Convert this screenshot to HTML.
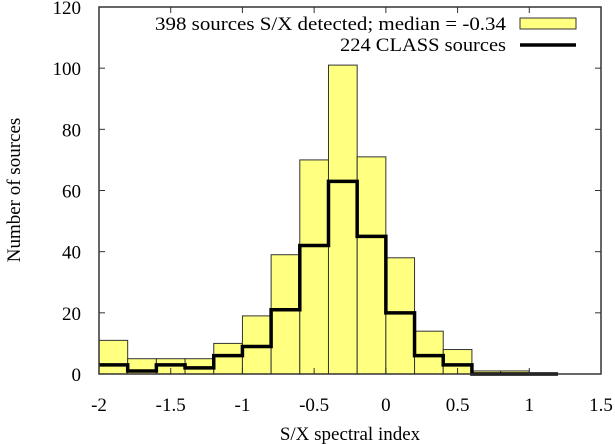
<!DOCTYPE html>
<html><head><meta charset="utf-8"><style>
html,body{margin:0;padding:0;background:#fff;}
svg{display:block;font-family:"Liberation Serif","DejaVu Serif",serif;}
</style></head><body>
<svg id="chart" width="615" height="444"></svg>
<script>
const binStarts = [-2,-1.8,-1.6,-1.4,-1.2,-1,-0.8,-0.6,-0.4,-0.2,0,0.2,0.4,0.6,0.8,1.0];
const detectedCounts = [11,5,5,5,10,19,39,70,101,71,38,14,8,1,1,0];
const classCounts = [3,1,3,2,6,9,21,42,63,45,20,6,3,0,0,0];
const xTicks = [-2,-1.5,-1,-0.5,0,0.5,1,1.5];
const xTickLabels = ["-2","-1.5","-1","-0.5","0","0.5","1","1.5"];
const yTicks = [0,20,40,60,80,100,120];
const binWidth = 0.2;

const svg = document.getElementById('chart');
const NS = 'http://www.w3.org/2000/svg';
const L=99, R=601, T=7, B=374;
const xs = v => L + (v - (-2)) / 3.5 * (R - L);
const ys = v => B - v / 120 * (B - T);
function mk(tag, attrs, parent){const e=document.createElementNS(NS,tag);for(const k in attrs)e.setAttribute(k,attrs[k]);(parent||svg).appendChild(e);return e;}

const bars = mk('g',{});


detectedCounts.forEach((c,i)=>{
  if(c<=0) return;
  const x0=xs(binStarts[i]), x1=xs(binStarts[i]+binWidth);
  const r=mk('rect',{x:x0,y:ys(c),width:x1-x0,height:B-ys(c),fill:'#ffff80',stroke:'#333','stroke-width':1},bars);
  
  
});

let d='';
classCounts.forEach((c,i)=>{
  const x0=xs(binStarts[i]), x1=xs(binStarts[i]+binWidth);
  d += (i===0?'M'+x0+','+ys(c):'L'+x0+','+ys(c)) + 'L'+x1+','+ys(c);
});
const step=mk('path',{d:d,fill:'none',stroke:'#000','stroke-width':3.5});



const frame=mk('rect',{x:L,y:T,width:R-L,height:B-T,fill:'none',stroke:'#333','stroke-width':1.5});



xTicks.forEach((v,i)=>{
  const x=xs(v);
  mk('line',{x1:x,y1:B,x2:x,y2:B-6,stroke:'#333'});
  mk('line',{x1:x,y1:T,x2:x,y2:T+6,stroke:'#333'});
  const t=mk('text',{x:x,y:411,'text-anchor':'middle','font-size':19});
  t.textContent=xTickLabels[i];
  
  
});
yTicks.forEach(v=>{
  const y=ys(v);
  mk('line',{x1:L,y1:y,x2:L+6,y2:y,stroke:'#333'});
  mk('line',{x1:R,y1:y,x2:R-6,y2:y,stroke:'#333'});
  const t=mk('text',{x:81,y:y+7,'text-anchor':'end','font-size':19});
  t.textContent=String(v);
  
  
});
</script>
<svg style="position:absolute;left:0;top:0" width="615" height="444">
<text x="350" y="440" text-anchor="middle" font-size="19" font-family="Liberation Serif, serif">S/X spectral index</text>
<text transform="translate(20,190) rotate(-90)" text-anchor="middle" font-size="19" font-family="Liberation Serif, serif">Number of sources</text>
<g>
<text x="155" y="30" textLength="351" lengthAdjust="spacingAndGlyphs" font-size="19" font-family="Liberation Serif, serif">398 sources S/X detected; median = -0.34</text>
<rect x="520" y="18" width="56" height="11" fill="#ffff80" stroke="#333"/>
<text x="340" y="51" textLength="166" lengthAdjust="spacingAndGlyphs" font-size="19" font-family="Liberation Serif, serif">224 CLASS sources</text>
<line x1="520" y1="45" x2="576" y2="45" stroke="#000" stroke-width="3.5"/>
</g>
</svg>
</body></html>
